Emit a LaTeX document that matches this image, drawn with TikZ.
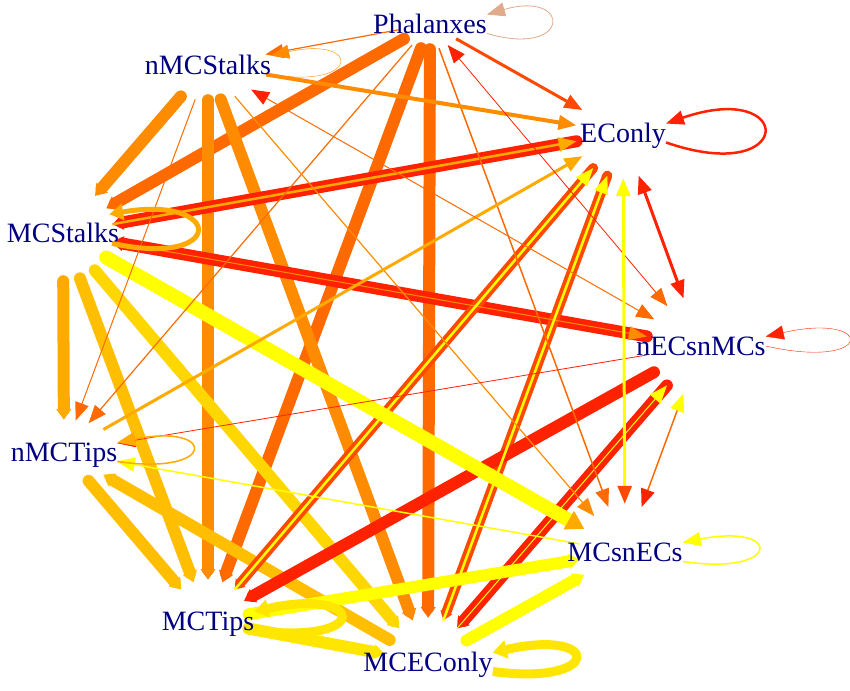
\documentclass[tikz,border=0pt]{standalone}
\usepackage{fontspec}
\setmainfont{Liberation Serif}
\usetikzlibrary{arrows.meta, shapes.geometric}

\definecolor{navy}{RGB}{0,0,128}
\definecolor{cred}{RGB}{255,34,0}
\definecolor{cred2}{RGB}{255,72,0}
\definecolor{corg1}{RGB}{255,106,0}
\definecolor{corg2}{RGB}{255,140,0}
\definecolor{camb}{RGB}{255,170,0}
\definecolor{camb2}{RGB}{255,190,0}
\definecolor{cgold}{RGB}{255,215,0}
\definecolor{cyel2}{RGB}{255,230,0}
\definecolor{cyel}{RGB}{255,255,0}
\definecolor{ctan}{RGB}{225,170,140}

\begin{document}
\begin{tikzpicture}[x=1pt,y=-1pt,
  hub/.style={ellipse,inner sep=0pt},
  lbl/.style={inner sep=0pt,text height=18.5pt,text depth=0pt,text=navy,
    font=\fontsize{28}{30}\selectfont},
  ar/.style={arrows={-{Triangle[length=18pt,width=14pt,#1]}}}, ar/.default={},
  arar/.style 2 args={arrows={{Triangle[length=18pt,width=14pt,#1]}-{Triangle[length=18pt,width=14pt,#2]}}},
  thk/.style={line width=12pt,line cap=round,arrows={-{Triangle[length=0pt 0.9,width=0pt 1.2]}}},
  thn/.style={line width=1pt,ar}]
  \fill[white] (0,0) rectangle (850,690);
  \useasboundingbox (0,0) rectangle (850,690);

  % hubs (edges end on these)
  \node[hub,minimum width=64pt,minimum height=50pt] (pha) at (430,24) {};
  \node[hub,minimum width=120pt,minimum height=70pt] (nmcs) at (208,65) {};
  \node[hub,minimum width=94pt,minimum height=90pt] (eco) at (623,133) {};
  \node[hub,minimum width=100pt,minimum height=96pt] (mcs) at (63,233) {};
  \node[hub,minimum width=110pt,minimum height=100pt] (nen) at (701,346) {};
  \node[hub,minimum width=110pt,minimum height=64pt] (nmct) at (64,452) {};
  \node[hub,minimum width=92pt,minimum height=96pt] (mcne) at (625,552) {};
  \node[hub,minimum width=82pt,minimum height=82pt] (mct) at (208,621) {};
  \node[hub,minimum width=88pt,minimum height=88pt] (mceo) at (428,662) {};

  % heavy edges
  \path[thk]
    (pha) edge[corg1] (mcs)
          edge[corg1] (mct)
          edge[corg1] (mceo)
    (nmcs) edge[corg2] (mcs)
           edge[corg2] (mct)
           edge[corg2] (mceo)
    (mcs) edge[camb] (nmct)
          edge[camb2] (mct)
          edge[cgold] (mceo)
    (nmct) edge[camb2] (mct)
    (mceo) edge[camb2] (nmct)
    (eco) edge[cred] (mcs)
    (nen) edge[cred] (mcs)
    (eco) edge[cred2,line width=10pt] (mct)
          edge[cred2,line width=10pt] (mceo)
    (nen) edge[cred] (mct)
          edge[cred] (mceo)
    (mcs) edge[cyel,line width=14pt,arrows={-{Triangle[length=18pt,width=20pt,color=camb]}}] (mcne)
    (mct) edge[cyel] (mcne)
          edge[cyel2] (mceo)
    (mceo) edge[cyel] (mcne);

  % light edges
  \path[thn]
    (mcs) edge[camb,line width=2.5pt] (eco)
          edge[corg2] (nen)
    (mct) edge[cyel,line width=2.5pt] (eco)
    (mceo) edge[cyel,line width=2.5pt] (eco)
           edge[cyel] (nen)
    (pha) edge[cred2,line width=3pt] (eco)
          edge[corg1,line width=1.2pt] (nmcs)
          edge[corg1,line width=1.2pt] (nmct)
          edge[corg1,line width=1.5pt] (mcne)
    (nmcs) edge[corg2,line width=4pt] (eco)
           edge[corg1] (nmct)
           edge[corg2,line width=1.2pt] (mcne)
    (nmct) edge[camb,line width=3pt] (eco)
    (nen) edge[cred,line width=0.8pt] (nmct)
    (mcne) edge[cyel,line width=1.5pt] (nmct);

  % both ways
  \path[line width=1pt]
    (nmcs) edge[corg1,arar={color=cred}{color=corg1}] (nen)
    (pha) edge[cred,line width=0.8pt,arar={color=cred}{color=corg1}] (nen)
    (eco) edge[cred,line width=3pt,arar={}{}] (nen)
          edge[cyel,line width=3pt,arar={}{color=cred2}] (mcne)
    (nen) edge[corg1,line width=1.5pt,arar={color=cyel}{color=cred}] (mcne);

  % labels
  \node[lbl] (phaL) at (pha) {Phalanxes};
  \node[lbl] (nmcsL) at (nmcs) {nMCStalks};
  \node[lbl] (ecoL) at (eco) {EConly};
  \node[lbl] (mcsL) at (mcs) {MCStalks};
  \node[lbl] (nenL) at (nen) {nECsnMCs};
  \node[lbl] (nmctL) at (nmct) {nMCTips};
  \node[lbl] (mcneL) at (mcne) {MCsnECs};
  \node[lbl] (mctL) at (mct) {MCTips};
  \node[lbl] (mceoL) at (mceo) {MCEConly};

  % self loops
  \draw[ctan,line width=0.8pt,ar] (phaL.south east) .. controls +(85,25) and +(85,-25) .. (phaL.north east);
  \draw[corg2,ar] (nmcsL.south east) .. controls +(90,15) and +(90,-20) .. (nmcsL.north east);
  \draw[cred,line width=2.5pt,ar] (ecoL.south east) .. controls +(130,45) and +(130,-45) .. (ecoL.north east);
  \draw[camb,line width=5pt,ar={length=14pt,width=16pt}] (mcs.-12) .. controls +(115,25) and +(115,-20) .. (mcs.22);
  \draw[cred,ar] (nenL.east) .. controls +(110,25) and +(110,-25) .. (nenL.north east);
  \draw[camb,line width=1.5pt,ar] (nmctL.south east) .. controls +(100,15) and +(100,-20) .. (nmctL.north east);
  \draw[cyel,line width=1.5pt,ar] (mcneL.south east) .. controls +(100,15) and +(100,-20) .. (mcneL.north east);
  \draw[cyel2,line width=9pt,ar={length=14pt,width=18pt}] (mctL.south east) .. controls +(120,15) and +(110,-25) .. (mctL.north east);
  \draw[cyel2,line width=9pt,ar={length=14pt,width=18pt}] (mceoL.south east) .. controls +(110,15) and +(110,-25) .. (mceoL.north east);
\end{tikzpicture}
\end{document}
